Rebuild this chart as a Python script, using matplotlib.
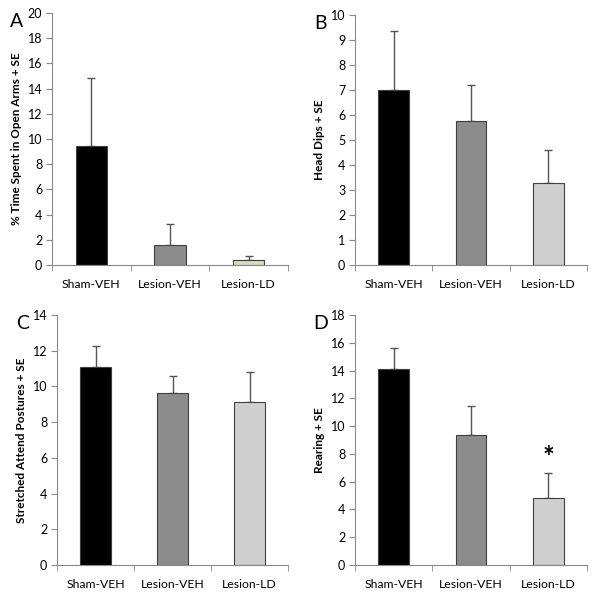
import numpy as np
import matplotlib
matplotlib.use('Agg')
import matplotlib.pyplot as plt

plt.rcParams['font.family'] = ['Lato', 'DejaVu Sans']

groups = ['Sham-VEH', 'Lesion-VEH', 'Lesion-LD']

# values (mean, and top of the +SE bar)
open_arms = [9.45, 1.6, 0.4]
open_arms_se = [5.4, 1.65, 0.3]
head_dips = [7.0, 5.75, 3.3]
head_dips_se = [2.35, 1.45, 1.32]
sap = [11.1, 9.65, 9.15]
sap_se = [1.15, 0.95, 1.65]
rearing = [14.1, 9.35, 4.85]
rearing_se = [1.5, 2.1, 1.75]

colors = ['#000000', '#8c8c8c', '#cfcfcf']
colors_a = ['#000000', '#8c8c8c', '#d8d8c8']

fig = plt.figure(figsize=(6, 5.95), dpi=100)
W, H = 600, 595


def panel(px, top, bottom, right, vals, se, ylim, step, ylabel, letter, cols, star=False):
    ax = fig.add_axes([px / W, 1 - bottom / H, (right - px) / W, (bottom - top) / H])
    x = np.arange(len(vals))
    ax.bar(x, vals, width=0.4, color=cols, edgecolor='#404040', linewidth=0.8, zorder=2)
    ax.errorbar(x, vals, yerr=[np.zeros(len(se)), se], fmt='none', ecolor='#555555',
                elinewidth=1, capsize=3, capthick=1, zorder=1)
    ax.set_xlim(-0.5, len(vals) - 0.5)
    ax.set_ylim(0, ylim)
    ax.set_yticks(np.arange(0, ylim + 0.01, step))
    ax.set_xticks(x)
    ax.set_xticklabels(groups, fontsize=8.8)
    ax.set_xticks(np.arange(-0.5, len(vals), 1), minor=True)
    ax.tick_params(axis='x', which='major', length=0, pad=10)
    ax.tick_params(axis='x', which='minor', length=4, color='#888888')
    ax.tick_params(axis='y', length=4, color='#888888', labelsize=9, pad=3)
    for s in ['top', 'right']:
        ax.spines[s].set_visible(False)
    for s in ['left', 'bottom']:
        ax.spines[s].set_color('#888888')
    ax.set_ylabel(ylabel, fontsize=8.5, fontweight='bold')
    ax.text(-0.15, 1.0, letter, transform=ax.transAxes, fontsize=14, va='top', ha='center')
    if star:
        ax.text(2, vals[2] + se[2] + 0.2, '*', ha='center', va='bottom', fontsize=20,
                fontweight='bold')
    return ax


panel(52, 13, 265, 288, open_arms, open_arms_se, 20, 2,
      '% Time Spent in Open Arms + SE', 'A', colors_a)
panel(355, 15, 265, 587, head_dips, head_dips_se, 10, 1,
      'Head Dips + SE', 'B', colors)
panel(57, 315, 565, 288, sap, sap_se, 14, 2,
      'Stretched Attend Postures + SE', 'C', colors)
panel(355, 315, 565, 587, rearing, rearing_se, 18, 2,
      'Rearing + SE', 'D', colors, star=True)

fig.savefig('out.png', dpi=100)
